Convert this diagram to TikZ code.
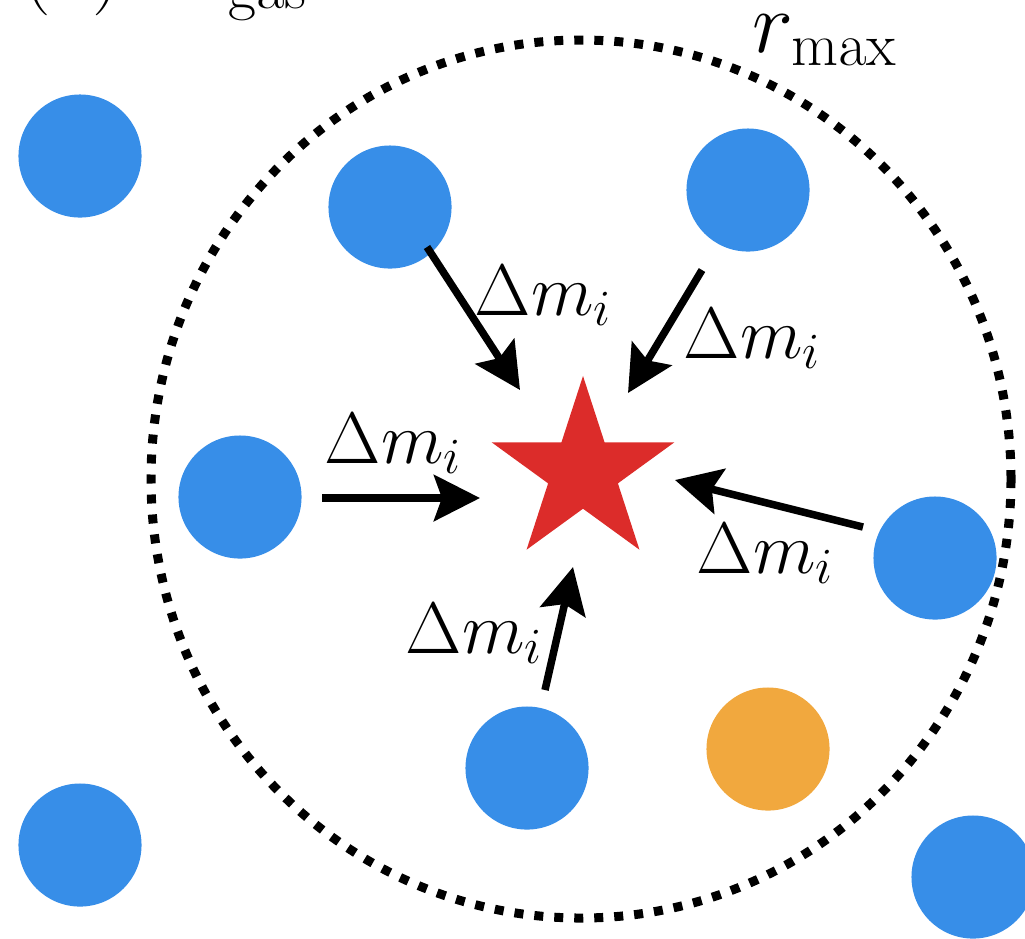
\documentclass[tikz,border=0pt]{standalone}
\usetikzlibrary{arrows.meta,shapes.geometric}
\definecolor{ballblue}{RGB}{55,142,232}
\definecolor{ballorange}{RGB}{241,168,62}
\definecolor{starred}{RGB}{220,44,42}
\tikzset{
  ball/.style={circle,fill=ballblue,draw=none,inner sep=0pt,minimum size=1.23cm},
  oball/.style={ball,fill=ballorange},
  flow/.style={line width=0.075cm,-{Stealth[length=0.46cm,width=0.46cm,inset=0.08cm]}},
  lab/.style={inner sep=0pt,anchor=base west,font=\fontsize{20.5}{24}\selectfont},
  rim/.style={line width=0.09cm,dash pattern=on 0.09cm off 0.11cm}
}
\begin{document}
\begin{tikzpicture}[x=0.01cm,y=-0.01cm]
\useasboundingbox (0,0) rectangle (1025,938);
\clip (0,0) rectangle (1025,938);
% clipped heading
\node[inner sep=0pt,anchor=base west,font=\fontsize{23}{26}\selectfont] (head) at (22,-5) {(b) $M_{\mathrm{gas}}$};
% dotted aperture
\draw[rim] (581,479) ellipse [x radius=430,y radius=439];
\node[inner sep=0pt,anchor=base west,font=\fontsize{23}{27}\selectfont] (rmax) at (752,52) {$r_{\mathrm{max}}$};
% particles
\node[ball] (b1) at (80,156) {};
\node[ball] (b2) at (390,207) {};
\node[ball] (b3) at (748,190) {};
\node[ball] (b4) at (240,497) {};
\node[ball] (b5) at (935,558) {};
\node[ball] (b6) at (527,768) {};
\node[oball] (o1) at (768,749) {};
\node[ball] (b7) at (80,845) {};
\node[ball] (b8) at (973,877) {};
% star
\node[star,star points=5,star point ratio=2.618,fill=starred,draw=none,inner sep=0pt,minimum size=1.92cm] (st) at (583,472) {};
% arrow ends
\coordinate (s1) at (427,247); \coordinate (t1) at (520,390);
\coordinate (s2) at (702,270); \coordinate (t2) at (628,393);
\coordinate (s3) at (322,498); \coordinate (t3) at (480,498);
\coordinate (s4) at (863,527); \coordinate (t4) at (675,480);
\coordinate (s5) at (545,690); \coordinate (t5) at (573,567);
\draw[flow] (s1) -- (t1);
\draw[flow] (s2) -- (t2);
\draw[flow] (s3) -- (t3);
\draw[flow] (s4) -- (t4);
\draw[flow] (s5) -- (t5);
% labels
\node[lab] (l1) at (474,315) {$\Delta m_i$};
\node[lab] (l2) at (683,358) {$\Delta m_i$};
\node[lab] (l3) at (324,463) {$\Delta m_i$};
\node[lab] (l4) at (696,573) {$\Delta m_i$};
\node[lab] (l5) at (405,653) {$\Delta m_i$};
\end{tikzpicture}
\end{document}
